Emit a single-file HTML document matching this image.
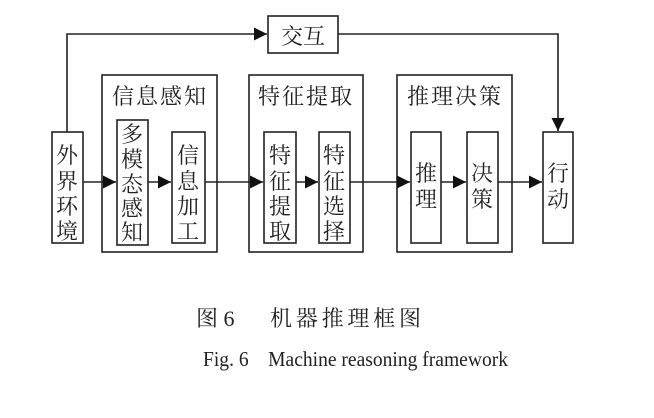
<!DOCTYPE html>
<html><head><meta charset="utf-8"><style>
body{margin:0;background:#fff;}
svg text{font-family:"Liberation Serif","Noto Serif CJK SC",serif;fill:#222;}
</style></head><body>
<svg width="654" height="413" viewBox="0 0 654 413" xmlns="http://www.w3.org/2000/svg">
<defs><marker id="a" markerWidth="14" markerHeight="14" refX="13" refY="6.5" orient="auto" markerUnits="userSpaceOnUse"><path d="M0,0 L13,6.5 L0,13 z" fill="#111"/></marker></defs>
<g fill="none" stroke="#222" stroke-width="1.6">
<rect x="102" y="75" width="115" height="177"/>
<rect x="249" y="75" width="114" height="177"/>
<rect x="397" y="75" width="115" height="177"/>
<rect x="52" y="132" width="31" height="111"/>
<rect x="117" y="120" width="31" height="125"/>
<rect x="172" y="132" width="33" height="111"/>
<rect x="264" y="132" width="32" height="111"/>
<rect x="319" y="132" width="31" height="111"/>
<rect x="411" y="132" width="30" height="111"/>
<rect x="467" y="132" width="31" height="111"/>
<rect x="543" y="132" width="30" height="111"/>
<rect x="268" y="16" width="70" height="37"/>
<polyline points="67,132 67,34 267,34" marker-end="url(#a)"/>
<polyline points="338,34 558,34 558,131" marker-end="url(#a)"/>
<line x1="83" y1="182" x2="116" y2="182" marker-end="url(#a)"/>
<line x1="148" y1="182" x2="171" y2="182" marker-end="url(#a)"/>
<line x1="205" y1="182" x2="263" y2="182" marker-end="url(#a)"/>
<line x1="296" y1="182" x2="318" y2="182" marker-end="url(#a)"/>
<line x1="350" y1="182" x2="410" y2="182" marker-end="url(#a)"/>
<line x1="441" y1="182" x2="466" y2="182" marker-end="url(#a)"/>
<line x1="498" y1="182" x2="542" y2="182" marker-end="url(#a)"/>
</g>
<g font-size="22" text-anchor="middle">
<text x="303" y="44">交互</text>
<text x="160" y="104" letter-spacing="2">信息感知</text>
<text x="306" y="104" letter-spacing="2">特征提取</text>
<text x="455" y="104" letter-spacing="2">推理决策</text>
<g font-size="22">
<text x="67" y="163">外</text><text x="67" y="189">界</text><text x="67" y="214">环</text><text x="67" y="239">境</text>
<text x="132" y="142">多</text><text x="132" y="167">模</text><text x="132" y="192">态</text><text x="132" y="216">感</text><text x="132" y="240">知</text>
<text x="188" y="163">信</text><text x="188" y="189">息</text><text x="188" y="214">加</text><text x="188" y="239">工</text>
<text x="280" y="163">特</text><text x="280" y="189">征</text><text x="280" y="214">提</text><text x="280" y="239">取</text>
<text x="334" y="163">特</text><text x="334" y="189">征</text><text x="334" y="214">选</text><text x="334" y="239">择</text>
<text x="426" y="181">推</text><text x="426" y="207">理</text>
<text x="482" y="181">决</text><text x="482" y="207">策</text>
<text x="558" y="181">行</text><text x="558" y="207">动</text>
</g>
</g>
<text x="196" y="326" font-size="22">图 6</text>
<text x="270" y="326" font-size="22" textLength="151" lengthAdjust="spacing">机器推理框图</text>
<text x="203" y="366" font-size="21" textLength="305" lengthAdjust="spacingAndGlyphs">Fig. 6　Machine reasoning framework</text>
</svg>
</body></html>
